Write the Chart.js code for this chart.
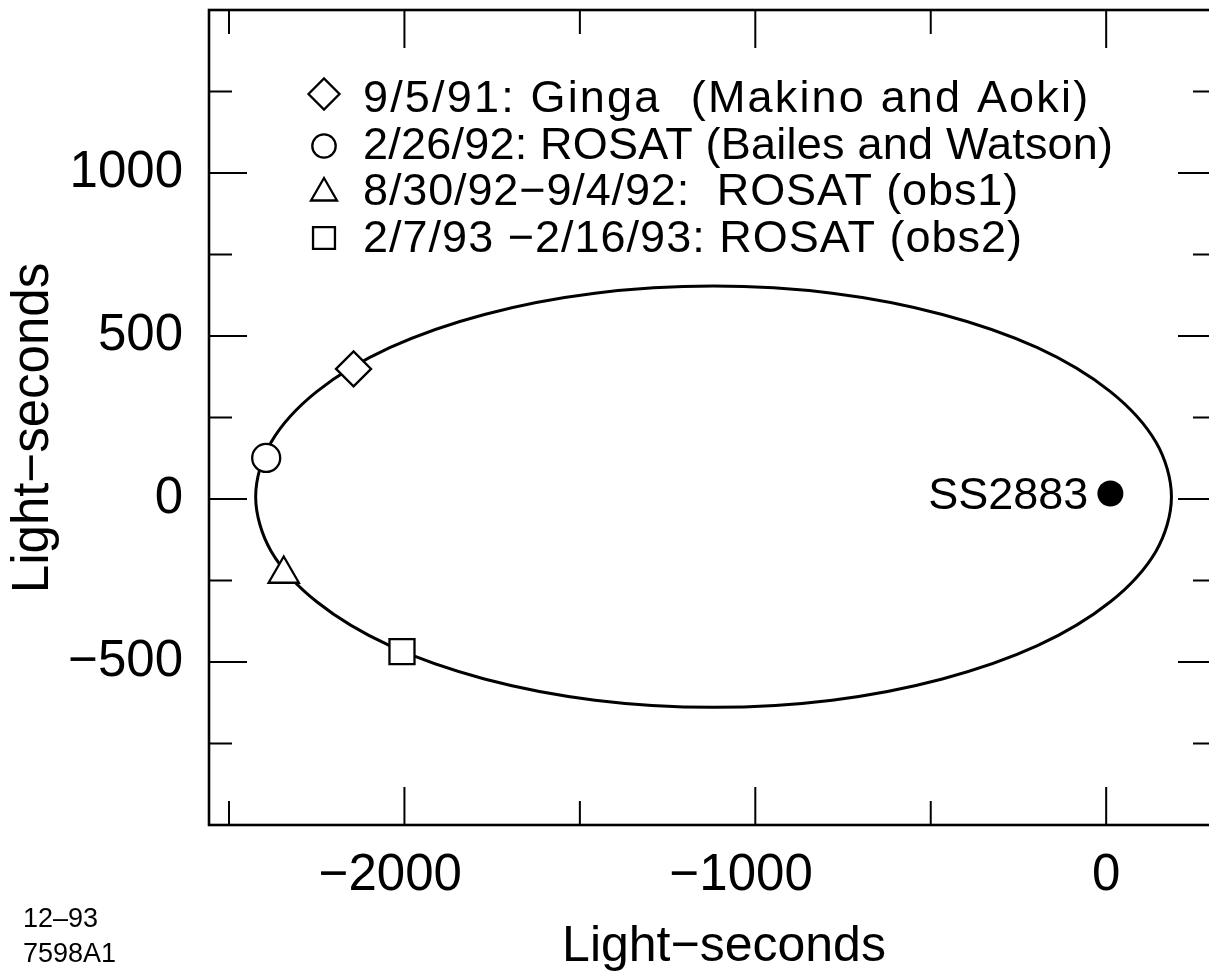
<!DOCTYPE html>
<html>
<head>
<meta charset="utf-8">
<script src="https://cdn.jsdelivr.net/npm/chart.js@4/dist/chart.umd.min.js"></script>
<style>
  html, body { margin: 0; padding: 0; background: #fff; overflow: hidden; }
  /* the chart keeps ~20px round the plot for the point markers; the canvas is shifted so the frame sits where the figure has it */
  #wrap { position: absolute; left: 0; top: -10px; width: 1236px; height: 982px; }
</style>
</head>
<body>
<div id="wrap"><canvas id="orbitChart" width="1236" height="982"></canvas></div>
<script>
// --- data (light-seconds) ---
// orbit outline, read around the ellipse; first/last two points overlap to close it smoothly
const orbitX = [142, 186, 142, 11, -196, -467, -781, -1119, -1457, -1772, -2042, -2249, -2380, -2424,
                -2380, -2249, -2042, -1772, -1457, -1119, -781, -467, -196, 11, 142, 186, 142];
const orbitY = [-160, 7, 174, 330, 464, 566, 631, 653, 631, 566, 464, 330, 174, 7,
                -160, -316, -450, -552, -617, -639, -617, -552, -450, -316, -160, 7, 174];

// observations
const obsLabels = [
  '9/5/91: Ginga  (Makino and Aoki)',
  '2/26/92: ROSAT (Bailes and Watson)',
  '8/30/92\u22129/4/92:  ROSAT (obs1)',
  '2/7/93 \u22122/16/93: ROSAT (obs2)'
];
const obsX = [-2145, -2394, -2344, -2007];
const obsY = [399, 126, -230, -468];
const obsStyle = ['rectRot', 'circle', 'triangle', 'rect'];
const obsRadius = [17.5, 14, 17.5, 17.7];

// companion star
const starLabel = 'SS2883';
const starX = [12];
const starY = [17];

// axes
const xRange = [-2557, 313];
const yRange = [-1000, 1500];
const xLabelTicks = [-2000, -1000, 0];
const xMinorTicks = [-2500, -1500, -500];
const yLabelTicks = [-500, 0, 500, 1000];
const yMinorTicks = [-750, -250, 250, 750, 1250];

const FONT = "'Liberation Sans', Arial, Helvetica, sans-serif";
const SHIFT = 10; // canvas offset (see css)
const fmt = v => (v < 0 ? '\u2212' + Math.abs(v) : String(v));

function drawSymbol(ctx, style, r, x, y, fill) {
    if (Chart.helpers && Chart.helpers.drawPoint) {
        ctx.fillStyle = fill;
        Chart.helpers.drawPoint(ctx, { pointStyle: style, radius: r, borderWidth: 2.3, rotation: 0 }, x, y);
    }
}

// frame, inward ticks, legend and text
const decorations = {
    id: 'decorations',
    afterDraw(chart) {
        const { ctx, chartArea: a, scales: { x, y } } = chart;
        ctx.save();
        ctx.strokeStyle = '#000';
        ctx.lineWidth = 2;
        ctx.beginPath();
        const xt = (v, len) => {
            const px = x.getPixelForValue(v);
            ctx.moveTo(px, a.bottom); ctx.lineTo(px, a.bottom - len);
            ctx.moveTo(px, a.top); ctx.lineTo(px, a.top + len);
        };
        const yt = (v, len) => {
            const py = y.getPixelForValue(v);
            ctx.moveTo(a.left, py); ctx.lineTo(a.left + len, py);
            ctx.moveTo(a.right, py); ctx.lineTo(a.right - len, py);
        };
        xLabelTicks.forEach(v => xt(v, 38));
        xMinorTicks.forEach(v => xt(v, 24));
        yLabelTicks.forEach(v => yt(v, 38));
        yMinorTicks.forEach(v => yt(v, 23));
        ctx.stroke();

        ctx.lineWidth = 2.6;
        ctx.strokeRect(a.left, a.top, a.right - a.left, a.bottom - a.top);

        // star label
        const sx = x.getPixelForValue(starX[0]);
        const sy = y.getPixelForValue(starY[0]);
        ctx.fillStyle = '#000';
        ctx.font = '45px ' + FONT;
        ctx.textAlign = 'right';
        ctx.textBaseline = 'alphabetic';
        ctx.fillText(starLabel, sx - 22, sy + 16);

        // page-positioned text below
        ctx.translate(0, SHIFT);

        // legend
        ctx.font = '45px ' + FONT;
        ctx.textAlign = 'left';
        const rows = [112, 158.5, 205, 252];
        const rowWidth = [725, 750, 655, 659];
        const legR = [15.5, 11.7, 15, 15.5];
        const symY = [94, 146, 193, 238];
        obsLabels.forEach((t, i) => {
            ctx.strokeStyle = '#000';
            ctx.lineWidth = 2.3;
            drawSymbol(ctx, obsStyle[i], legR[i], 324, symY[i], '#fff');
            ctx.fillStyle = '#000';
            ctx.letterSpacing = '0px';
            const w = ctx.measureText(t).width;
            ctx.letterSpacing = ((rowWidth[i] - w) / (t.length - 1)).toFixed(2) + 'px';
            ctx.fillText(t, 363, rows[i]);
        });
        ctx.letterSpacing = '0px';

        // axis titles
        ctx.textAlign = 'center';
        ctx.font = '50px ' + FONT;
        ctx.fillText('Light\u2212seconds', 724, 961);
        ctx.font = '51px ' + FONT;
        ctx.save();
        ctx.translate(48, 428);
        ctx.rotate(-Math.PI / 2);
        ctx.fillText('Light\u2212seconds', 0, 0);
        ctx.restore();

        // figure id
        ctx.font = '27px ' + FONT;
        ctx.textAlign = 'left';
        ctx.fillText('12\u201393', 23, 927);
        ctx.fillText('7598A1', 23, 962);
        ctx.restore();
    }
};

const noPad = s => { s.paddingLeft = 0; s.paddingRight = 0; s.paddingTop = 0; s.paddingBottom = 0; };
const lastOrbit = orbitX.length - 1;

const chart = new Chart(document.getElementById('orbitChart').getContext('2d'), {
    type: 'scatter',
    data: {
        datasets: [{
            label: 'orbit',
            data: orbitX.map((v, i) => ({ x: v, y: orbitY[i] })),
            showLine: true,
            tension: 0.33,
            borderColor: '#000',
            borderWidth: 3,
            pointRadius: 0,
            fill: false,
            order: 10,
            segment: {
                // the two overlap segments at the ends are hidden, the loop is drawn once
                borderColor: c => (c.p0DataIndex === 0 || c.p1DataIndex === lastOrbit) ? 'rgba(0,0,0,0)' : '#000'
            }
        }, {
            label: 'observations',
            data: obsX.map((v, i) => ({ x: v, y: obsY[i] })),
            pointStyle: obsStyle,
            pointRadius: obsRadius,
            pointBorderWidth: 2.3,
            pointBorderColor: '#000',
            pointBackgroundColor: '#fff',
            order: 1
        }, {
            label: starLabel,
            data: starX.map((v, i) => ({ x: v, y: starY[i] })),
            pointStyle: 'circle',
            pointRadius: 13,
            pointBorderWidth: 0,
            pointBackgroundColor: '#000',
            order: 0
        }]
    },
    options: {
        responsive: false,
        animation: false,
        devicePixelRatio: 1,
        layout: { padding: 0 },
        plugins: { legend: { display: false }, tooltip: { enabled: false } },
        scales: {
            x: {
                type: 'linear',
                min: xRange[0], max: xRange[1],
                grid: { display: false, drawTicks: false },
                border: { display: false },
                afterBuildTicks: s => { s.ticks = xLabelTicks.map(v => ({ value: v })); },
                afterFit: s => { s.height = 147; noPad(s); },
                ticks: {
                    padding: 20,
                    color: '#000',
                    font: { family: FONT, size: 51 },
                    maxRotation: 0,
                    // figure space keeps the digits centred on the tick, minus hanging left
                    callback: v => (v < 0 ? fmt(v) + '\u2007' : fmt(v))
                }
            },
            y: {
                type: 'linear',
                min: yRange[0], max: yRange[1],
                grid: { display: false, drawTicks: false },
                border: { display: false },
                afterBuildTicks: s => { s.ticks = yLabelTicks.map(v => ({ value: v })); },
                afterFit: s => { s.width = 209; noPad(s); },
                ticks: {
                    padding: 26,
                    color: '#000',
                    font: { family: FONT, size: 51 },
                    callback: v => fmt(v)
                }
            }
        }
    },
    plugins: [decorations]
});
</script>
</body>
</html>
